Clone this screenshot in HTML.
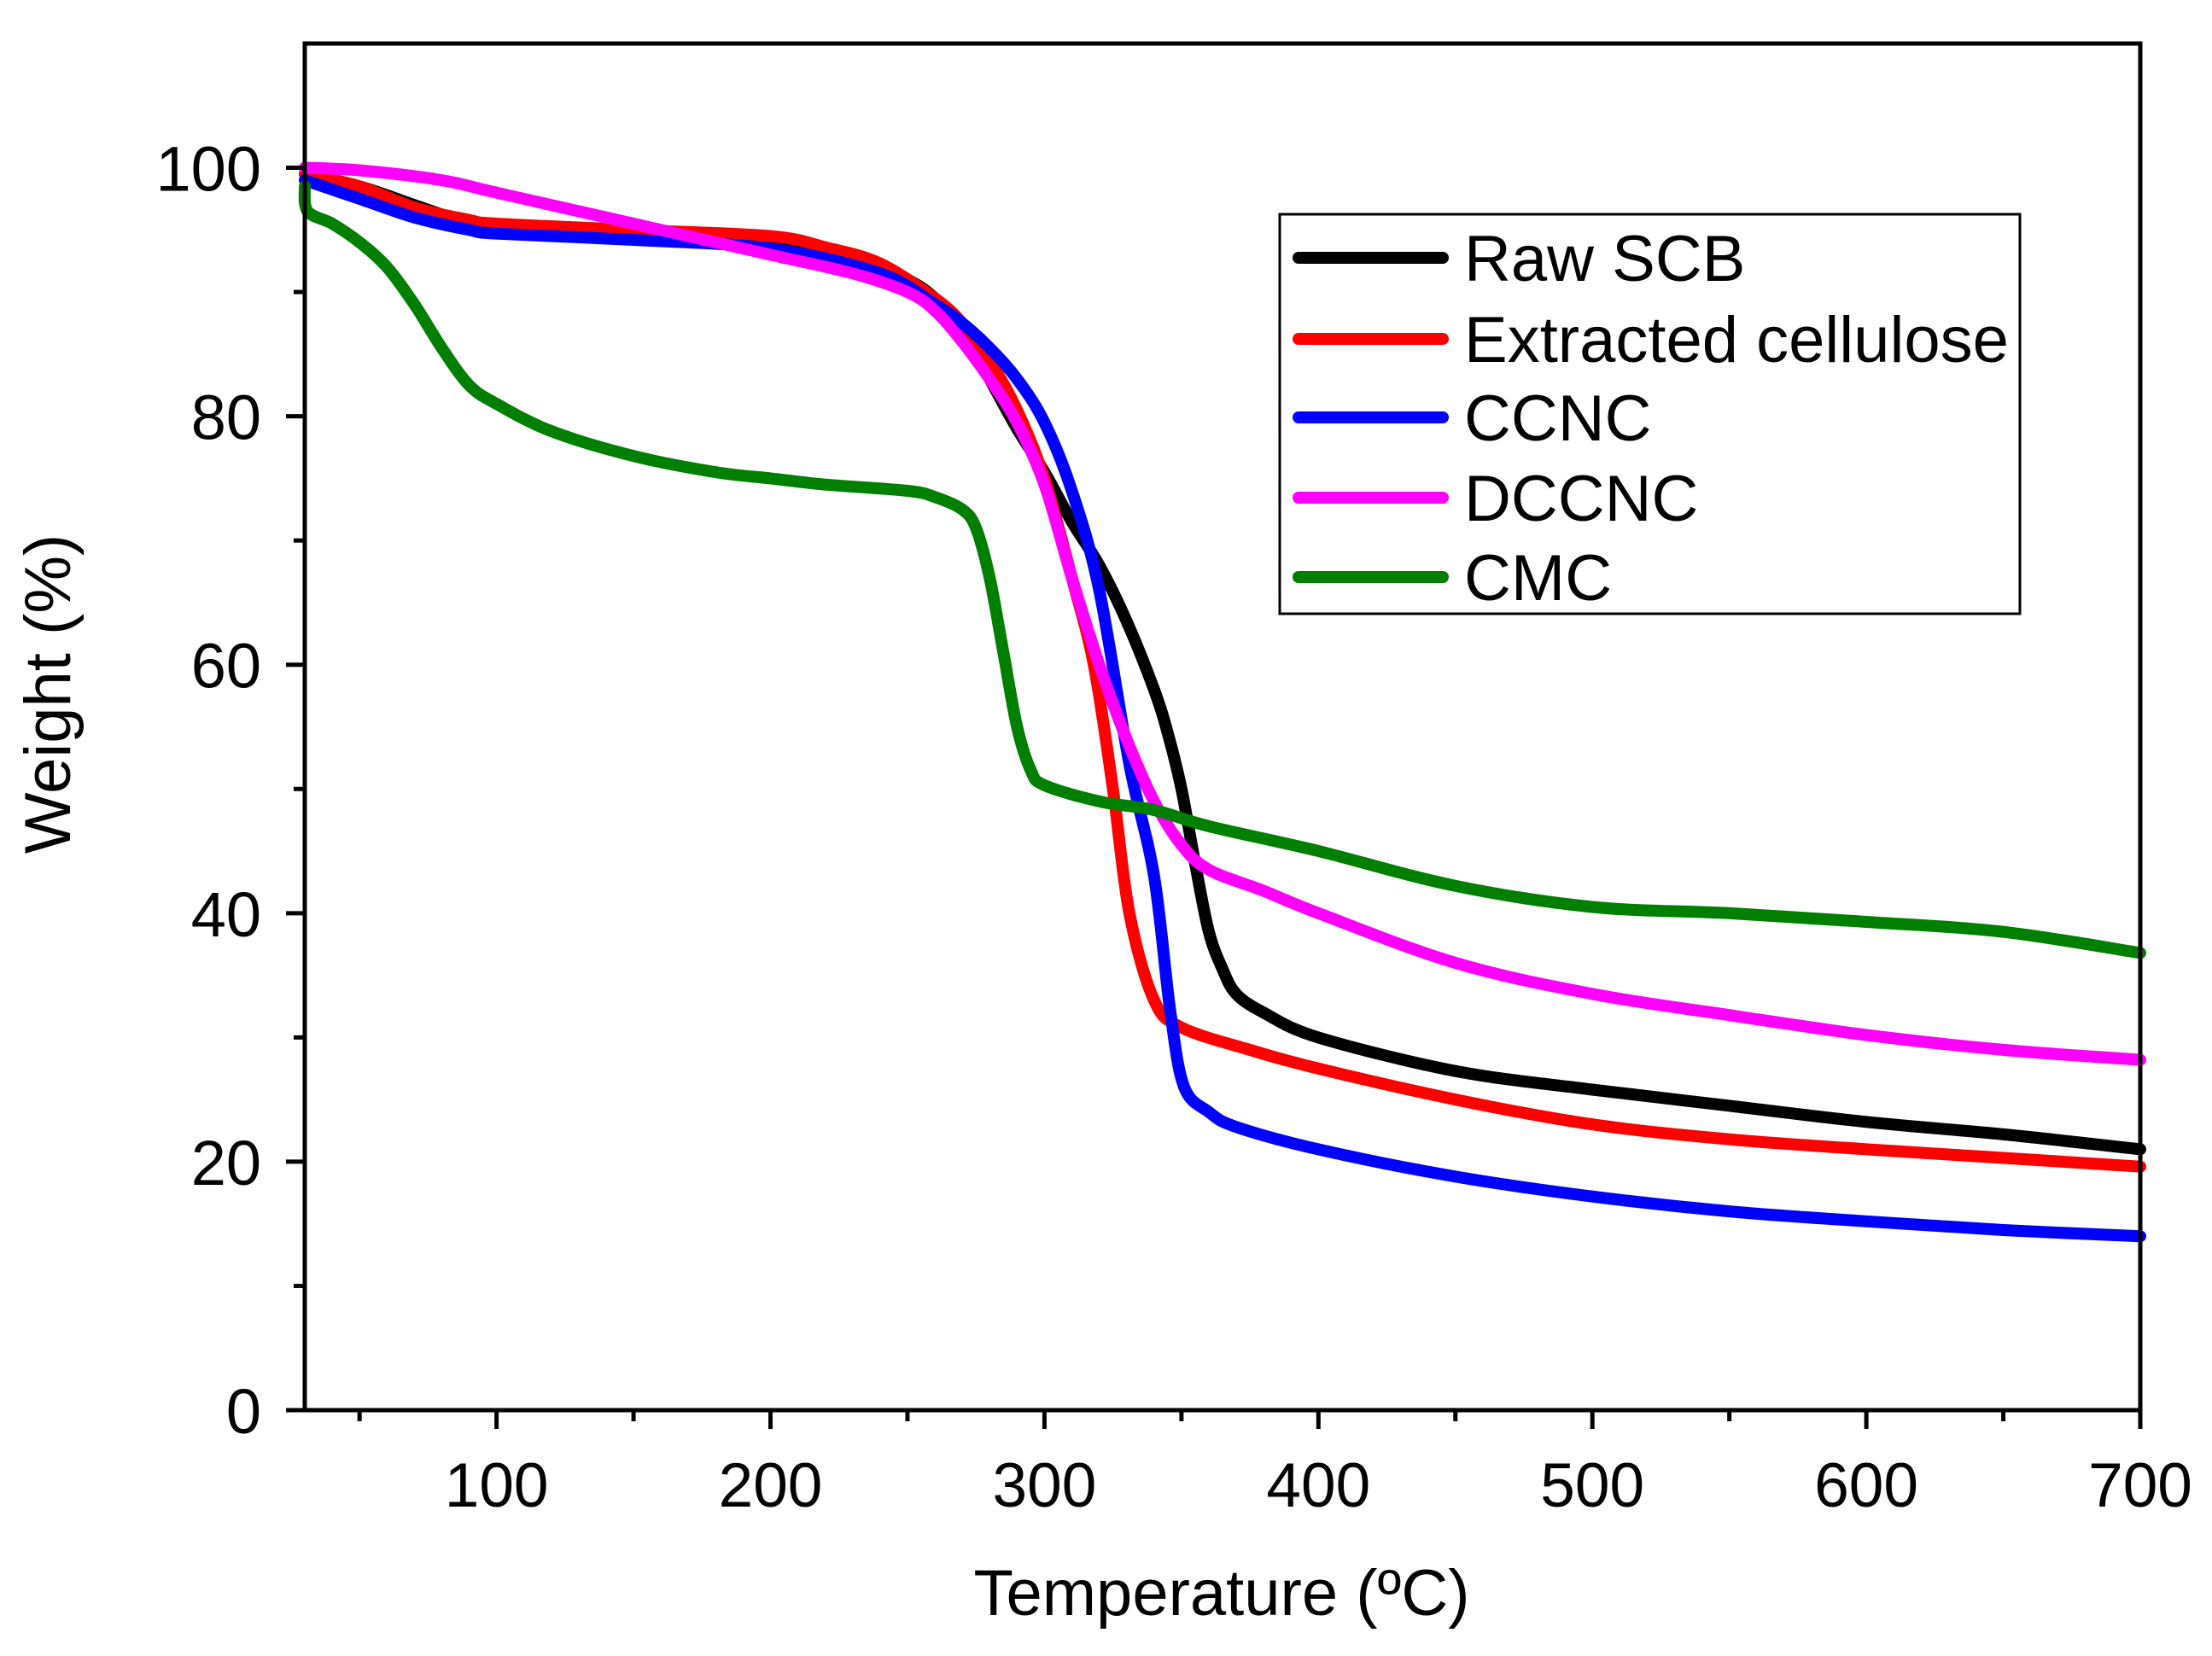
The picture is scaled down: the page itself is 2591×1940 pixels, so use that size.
<!DOCTYPE html>
<html><head><meta charset="utf-8"><style>
html,body{margin:0;padding:0;background:#fff;}
svg{display:block;font-family:"Liberation Sans",Arial,sans-serif;}
</style></head><body>
<svg id="chart" width="2591" height="1940" viewBox="0 0 2591 1940" xmlns="http://www.w3.org/2000/svg">
<rect x="0" y="0" width="2591" height="1940" fill="#fff"/>
<g id="series"></g>
<rect x="357" y="51" width="2150" height="1601" fill="none" stroke="#000" stroke-width="5"/>
<g id="axes"></g>
<text x="1431" y="1892" font-size="76" text-anchor="middle">Temperature (ºC)</text>
<text x="0" y="0" font-size="76" text-anchor="middle" transform="translate(82,813) rotate(-90)">Weight (%)</text>
<g>
<rect x="1499" y="251" width="867" height="468" fill="#fff" stroke="#000" stroke-width="3"/>
<g id="legend-items"></g>
</g>
</svg>
<script>
const xTicks=[100,200,300,400,500,600,700];
const xMinor=[50,150,250,350,450,550,650];
const yTicks=[0,20,40,60,80,100];
const yMinor=[10,30,50,70,90];
const seriesNames=["Raw SCB","Extracted cellulose","CCNC","DCCNC","CMC"];
const seriesColors=["#000000","#ff0000","#0000ff","#ff00ff","#007f00"];
const rawX=[30,50,70,90,100,120,150,200,230,250,260,270,280,290,300,310,320,330,340,345,350,355,360,365,370,380,400,450,500,550,600,650,700];
const rawY=[99.5,98.5,97,95.5,95,94.6,94.3,94,93,91,89.5,87,83,79,75.5,71.5,68,63.5,58,54.5,50,44,38.5,35.5,33.5,32,30,27.3,25.8,24.5,23.2,22.2,21];
const redX=[30,50,70,90,100,150,200,220,240,260,270,280,290,300,310,318,325,331,340,350,375,400,450,500,550,600,650,700];
const redY=[99.5,98.5,96.8,95.8,95.5,95,94.5,93.6,92.3,89.5,87.5,84.5,80.5,75,67,60,50,40,33,30.8,29,27.5,25,23,21.8,21,20.3,19.6];
const blueX=[30,50,70,90,100,150,200,240,260,270,280,290,300,310,320,331,340,346,351,360,370,400,450,500,550,600,650,700];
const blueY=[99,97.5,96,95,94.7,94.2,93.5,91.5,89,87.5,85.5,83,79.5,74,66,52,43,32,26,24,22.8,21,18.8,17.2,16,15.2,14.5,14];
const magX=[30,50,80,100,150,200,230,250,260,270,280,290,300,310,320,330,340,350,360,380,400,450,500,550,600,650,700];
const magY=[100,99.8,99,98,95.5,93,91.5,90,88.5,86,83,79.5,74.5,67,60,54,49,45.5,43.5,41.8,40,36,33.5,31.8,30.2,29,28.2];
const cmcX=[30,31,40,50,60,70,80,90,100,120,150,180,200,220,250,260,270,275,280,285,290,295,300,320,340,360,400,450,500,550,600,650,700];
const cmcY=[98.5,96.5,95.5,94,92,89,85.5,82.5,81,78.8,76.8,75.5,75,74.5,74,73.5,72.5,71,67,61,55,51.5,50.3,49,48.3,47,45,42.2,40.5,40,39.3,38.5,36.8];
const allX=[rawX,redX,blueX,magX,cmcX];
const allY=[rawY,redY,blueY,magY,cmcY];

const NS="http://www.w3.org/2000/svg";
const L=357,R=2507,T=51,B=1652,X0=30,X1=700,Y0=0,Y1=110;
function sx(v){return L+(v-X0)/(X1-X0)*(R-L);}
function sy(v){return B-(v-Y0)/(Y1-Y0)*(B-T);}
function mk(tag,attrs){const e=document.createElementNS(NS,tag);for(const k in attrs)e.setAttribute(k,attrs[k]);return e;}
function pathFor(xs,ys){
  const p=xs.map((x,i)=>[sx(x),sy(ys[i])]);
  let d="M"+p[0][0].toFixed(1)+","+p[0][1].toFixed(1);
  for(let i=0;i<p.length-1;i++){
    const p0=p[Math.max(0,i-1)],p1=p[i],p2=p[i+1],p3=p[Math.min(p.length-1,i+2)];
    const c1x=p1[0]+(p2[0]-p0[0])/6,c1y=p1[1]+(p2[1]-p0[1])/6;
    const c2x=p2[0]-(p3[0]-p1[0])/6,c2y=p2[1]-(p3[1]-p1[1])/6;
    d+=" C"+c1x.toFixed(1)+","+c1y.toFixed(1)+" "+c2x.toFixed(1)+","+c2y.toFixed(1)+" "+p2[0].toFixed(1)+","+p2[1].toFixed(1);
  }
  return d;
}
const sg=document.getElementById("series");
allX.forEach((xs,i)=>{
  const el=mk("path",{d:pathFor(xs,allY[i]),fill:"none",stroke:seriesColors[i],"stroke-width":14,"stroke-linejoin":"round","stroke-linecap":"round"});
  
  
  sg.appendChild(el);
});
const ax=document.getElementById("axes");
xTicks.forEach(v=>{
  const t=mk("line",{x1:sx(v),x2:sx(v),y1:B,y2:B+22,stroke:"#000","stroke-width":5});
  
  
  ax.appendChild(t);
  const lb=mk("text",{x:sx(v),y:1765,"font-size":73,"text-anchor":"middle"});
  lb.textContent=v;
  
  
  ax.appendChild(lb);
});
xMinor.forEach(v=>{
  const t=mk("line",{x1:sx(v),x2:sx(v),y1:B,y2:B+13,stroke:"#000","stroke-width":5});
  
  
  ax.appendChild(t);
});
yTicks.forEach(v=>{
  const t=mk("line",{x1:L-22,x2:L,y1:sy(v),y2:sy(v),stroke:"#000","stroke-width":5});
  
  
  ax.appendChild(t);
  const lb=mk("text",{x:306,y:sy(v)+27,"font-size":74,"text-anchor":"end"});
  lb.textContent=v;
  
  
  ax.appendChild(lb);
});
yMinor.forEach(v=>{
  const t=mk("line",{x1:L-13,x2:L,y1:sy(v),y2:sy(v),stroke:"#000","stroke-width":5});
  
  
  ax.appendChild(t);
});
const lg=document.getElementById("legend-items");
const rowsY=[302,397,489,583,676];
seriesNames.forEach((n,i)=>{
  const ln=mk("line",{x1:1521,x2:1690,y1:rowsY[i],y2:rowsY[i],stroke:seriesColors[i],"stroke-width":14,"stroke-linecap":"round"});
  
  
  lg.appendChild(ln);
  const tx=mk("text",{x:1715,y:rowsY[i]+27,"font-size":76});
  tx.textContent=n;
  
  
  lg.appendChild(tx);
});
</script>
</body></html>
